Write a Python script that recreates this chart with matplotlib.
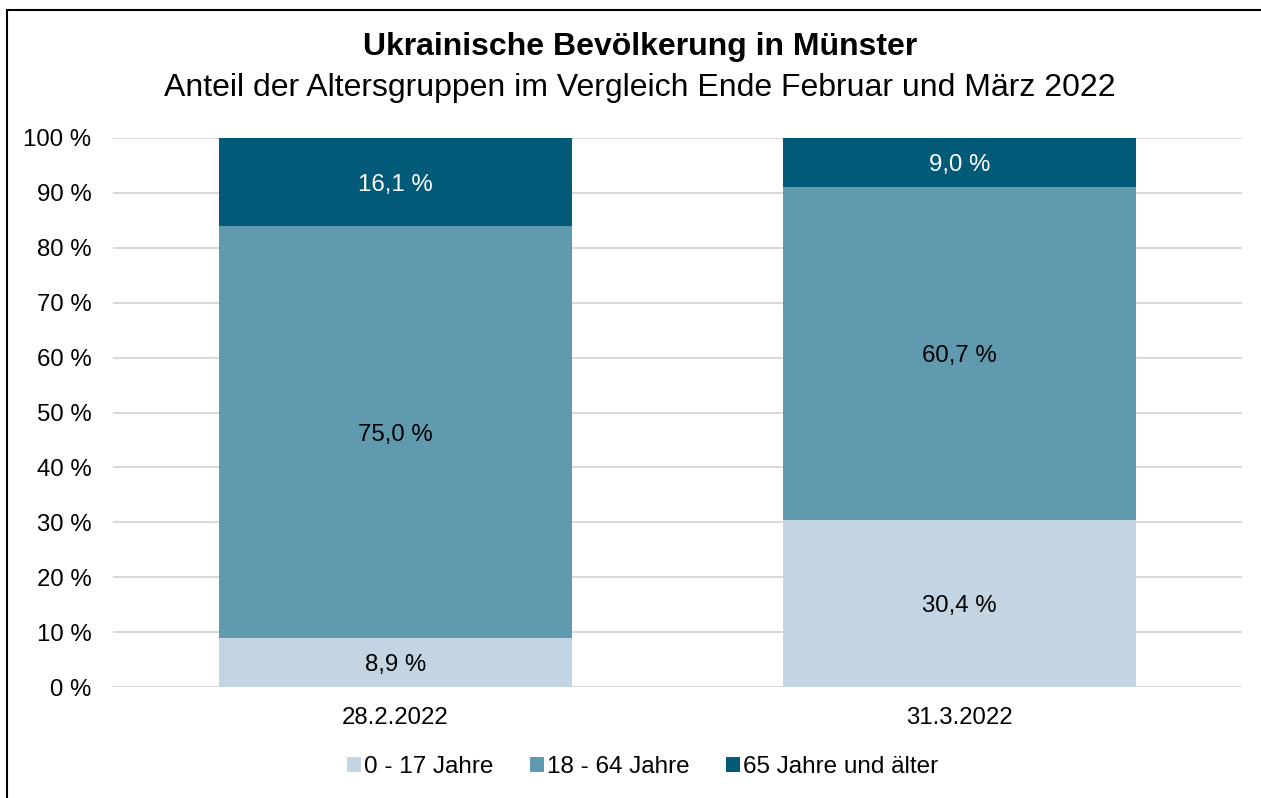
import matplotlib
matplotlib.use("Agg")
import matplotlib.pyplot as plt
from matplotlib.patches import Rectangle
import numpy as np

plt.rcParams['font.family'] = ['Liberation Sans', 'DejaVu Sans']

categories = ["28.2.2022", "31.3.2022"]
series_names = ["0 - 17 Jahre", "18 - 64 Jahre", "65 Jahre und älter"]
v_0_17 = [8.9, 30.4]
v_18_64 = [75.0, 60.7]
v_65 = [16.1, 9.0]
labels_0_17 = ["8,9 %", "30,4 %"]
labels_18_64 = ["75,0 %", "60,7 %"]
labels_65 = ["16,1 %", "9,0 %"]
yticks = [0, 10, 20, 30, 40, 50, 60, 70, 80, 90, 100]
ytick_labels = [f"{t} %" for t in yticks]

colors = ["#C3D5E2", "#5F9AAE", "#005A78"]
text_colors = ["black", "black", "white"]

fig = plt.figure(figsize=(12.61, 7.98), dpi=100)
ax = fig.add_axes([113/1261, 1 - 687/798, (1242-113)/1261, (687-138)/798])

x = np.arange(len(categories))
series = [v_0_17, v_18_64, v_65]
labels = [labels_0_17, labels_18_64, labels_65]
bottom = np.zeros(len(categories))
handles = []
for vals, lab, c, tc, name in zip(series, labels, colors, text_colors, series_names):
    vals = np.array(vals)
    b = ax.bar(x, vals, bottom=bottom, width=0.625, color=c, label=name, zorder=3)
    handles.append(b)
    for xi, bi, vi, li in zip(x, bottom, vals, lab):
        ax.text(xi, bi + vi / 2, li, ha="center", va="center_baseline", color=tc, fontsize=17.3, zorder=4)
    bottom = bottom + vals

ax.set_xlim(-0.5, 1.5)
ax.set_ylim(0, 100)
ax.set_yticks(yticks)
ax.set_yticklabels(ytick_labels, fontsize=17.3)
ax.set_xticks(x)
ax.set_xticklabels(categories, fontsize=17.3)
ax.tick_params(axis="both", length=0)
ax.tick_params(axis="y", pad=15.5)
ax.tick_params(axis="x", pad=14.5)
ax.grid(axis="y", color="#D9D9D9", linewidth=1.5, zorder=0)
for s in ax.spines.values():
    s.set_visible(False)

fig.text(640/1261, 1 - 47/798, "Ukrainische Bevölkerung in Münster", ha="center", va="center",
         fontsize=23, fontweight="bold")
fig.text(640/1261, 1 - 88/798, "Anteil der Altersgruppen im Vergleich Ende Februar und März 2022",
         ha="center", va="center", fontsize=23)

leg = fig.legend(handles=handles, labels=series_names, loc="center", bbox_to_anchor=(643/1261, 1 - 767/798),
                 ncol=3, frameon=False, fontsize=17.5, handlelength=0.55, handleheight=0.55,
                 handletextpad=0.15, columnspacing=1.5)

fig.patches.append(Rectangle((7/1261, -0.1), 1.1, (1 - 10/798) + 0.1, transform=fig.transFigure,
                             fill=False, edgecolor="black", linewidth=1.5, zorder=10))

fig.savefig("out.png", dpi=100)
